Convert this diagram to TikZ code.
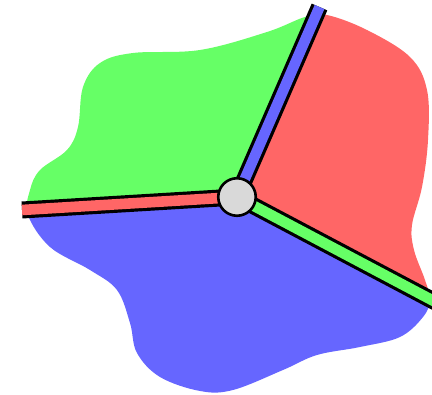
\documentclass[tikz,border=0pt]{standalone}
\usetikzlibrary{calc}
\begin{document}
\begin{tikzpicture}[x=1pt,y=-1pt,
  stripout/.style={line width=17pt,draw=black},
  stripin/.style={line width=10.6pt},
  hub/.style={circle,minimum size=37.5pt,inner sep=0pt,fill=hubgray,draw=black,line width=2.6pt}]
\definecolor{gG}{HTML}{66FF66}
\definecolor{rR}{HTML}{FF6666}
\definecolor{bB}{HTML}{6666FF}
\definecolor{hubgray}{HTML}{D9D9D9}
\useasboundingbox (0,0) rectangle (432,395);
\coordinate (C) at (237,197);
\coordinate (T) at (319.5,7);
\coordinate (L) at (22,210);
\coordinate (R) at (445,307);
\def\blob{plot[smooth cycle,tension=0.6] coordinates {
 (327,15) (367,30) (410,57) (427,90) (428,140) (422,187) (412,225) (414,250)
 (425,280) (430,300) (423,317) (400,337) (360,347) (317,355) (283,370) (233,390)
 (200,391) (160,377) (137,353) (130,323) (117,290) (90,270) (50,247) (28,215)
 (30,190) (40,170) (67,150) (78,127) (83,87) (100,63) (133,53) (200,50) (267,32) (305,17)}}
\begin{scope}
 \clip (C) -- ($(C)!3!(L)$) -- (-408,-370) -- ($(C)!3!(T)$) -- cycle;
 \fill[gG] \blob;
\end{scope}
\begin{scope}
 \clip (C) -- ($(C)!3!(T)$) -- (822,-370) -- ($(C)!3!(R)$) -- cycle;
 \fill[rR] \blob;
\end{scope}
\begin{scope}
 \clip (C) -- ($(C)!3!(R)$) -- (822,800) -- (-408,800) -- ($(C)!3!(L)$) -- cycle;
 \fill[bB] \blob;
\end{scope}
\draw[stripout] (C) -- (T);
\draw[stripout] (C) -- (L);
\draw[stripout] (C) -- (R);
\draw[stripin,bB] (C) -- (T);
\draw[stripin,rR] (C) -- (L);
\draw[stripin,gG] (C) -- (R);
\node[hub] (hubnode) at (C) {};
\end{tikzpicture}
\end{document}
